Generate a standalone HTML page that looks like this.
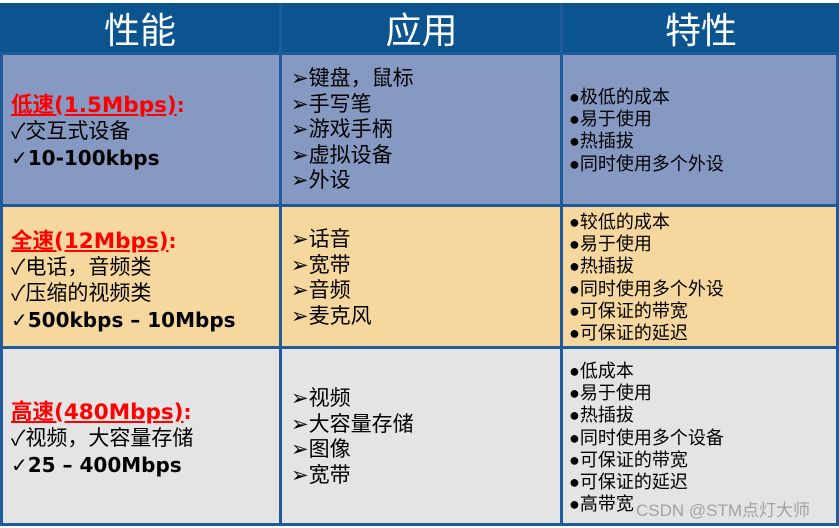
<!DOCTYPE html>
<html><head><meta charset="utf-8"><style>
body{margin:0;width:839px;height:528px;background:#fff;position:relative;overflow:hidden;font-family:"Liberation Sans","Noto Sans CJK SC",sans-serif;}
.a{position:absolute;}
.h{background:#0b5490;}
.ht{color:#fff;font-size:36px;text-align:center;line-height:50px;top:6px}
.t{position:absolute;white-space:nowrap;color:#000;}
.c1{font-size:21px;line-height:26px;left:11px}
.c2{font-size:21px;line-height:25.6px;left:291px}
.c3{font-size:18px;line-height:22.2px;left:569px}
.red{color:#f00;font-weight:bold;text-decoration:underline;font-family:"DejaVu Sans","Noto Sans CJK SC",sans-serif;font-size:21.5px}
b{font-weight:bold;font-family:"DejaVu Sans","Noto Sans CJK SC",sans-serif;font-size:20px}
.v{position:absolute;background:#1f5a9a;}
</style></head><body>
<div class="a h" style="left:0;top:3px;width:839px;height:50px"></div>
<div class="a ht" style="left:0;width:280px">性能</div>
<div class="a ht" style="left:282px;width:279px">应用</div>
<div class="a ht" style="left:563px;width:276px">特性</div>
<div class="a" style="left:0;top:53px;width:839px;height:152px;background:#8599c2"></div>
<div class="a" style="left:0;top:205px;width:839px;height:142px;background:#f6d89f"></div>
<div class="a" style="left:0;top:347px;width:839px;height:178px;background:#e4e4e4"></div>
<div class="v" style="left:0;top:52px;width:839px;height:3px"></div>
<div class="v" style="left:0;top:204px;width:839px;height:3px"></div>
<div class="v" style="left:0;top:346px;width:839px;height:3px"></div>
<div class="v" style="left:0;top:523px;width:839px;height:3px"></div>
<div class="v" style="left:0;top:52px;width:3px;height:474px"></div>
<div class="v" style="left:279px;top:3px;width:3px;height:523px"></div>
<div class="v" style="left:560px;top:3px;width:3px;height:523px"></div>
<div class="v" style="left:836px;top:52px;width:3px;height:474px"></div>

<div class="t c1" style="top:92px"><span class="red">低速(1.5Mbps)</span><b style="color:#f00">:</b><br>✓交互式设备<br><b>✓10-100kbps</b></div>
<div class="t c2" style="top:66px">➢键盘，鼠标<br>➢手写笔<br>➢游戏手柄<br>➢虚拟设备<br>➢外设</div>
<div class="t c3" style="top:86px">●极低的成本<br>●易于使用<br>●热插拔<br>●同时使用多个外设</div>

<div class="t c1" style="top:228px"><span class="red">全速(12Mbps)</span><b style="color:#f00">:</b><br>✓电话，音频类<br>✓压缩的视频类<br><b>✓500kbps – 10Mbps</b></div>
<div class="t c2" style="top:227px">➢话音<br>➢宽带<br>➢音频<br>➢麦克风</div>
<div class="t c3" style="top:211px">●较低的成本<br>●易于使用<br>●热插拔<br>●同时使用多个外设<br>●可保证的带宽<br>●可保证的延迟</div>

<div class="t c1" style="top:399px"><span class="red">高速(480Mbps)</span><b style="color:#f00">:</b><br>✓视频，大容量存储<br><b>✓25 – 400Mbps</b></div>
<div class="t c2" style="top:386px">➢视频<br>➢大容量存储<br>➢图像<br>➢宽带</div>
<div class="t c3" style="top:360px">●低成本<br>●易于使用<br>●热插拔<br>●同时使用多个设备<br>●可保证的带宽<br>●可保证的延迟<br>●高带宽</div>
<div class="t" style="left:636px;top:496px;font-size:17px;color:rgba(150,150,150,0.85)">CSDN @STM点灯大师</div>
</body></html>
